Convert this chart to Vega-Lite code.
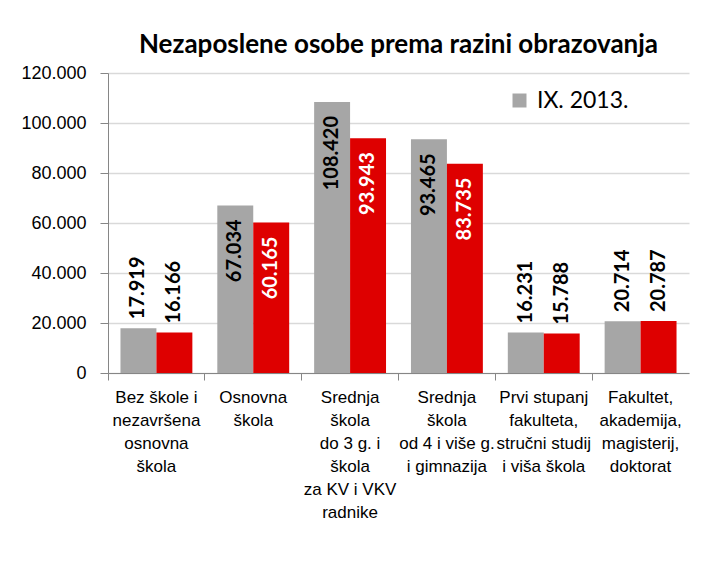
{
  "$schema": "https://vega.github.io/schema/vega-lite/v6.json",
  "width": 581,
  "height": 300,
  "autosize": {"type": "none"},
  "padding": {"left": 108, "top": 73, "right": 14, "bottom": 197},
  "background": "white",
  "config": {
    "locale": {"number": {"decimal": ",", "thousands": ".", "grouping": [3], "currency": ["", ""]}},
    "view": {"stroke": null}
  },
  "title": {
    "text": "Nezaposlene osobe prema razini obrazovanja",
    "anchor": "middle",
    "font": "Lato",
    "fontSize": 26,
    "fontWeight": "bold",
    "color": "black",
    "offset": 6
  },
  "data": {
    "values": [
      {"category": "Bez škole i\nnezavršena\nosnovna\nškola", "series": "IX. 2013.", "value": 17919},
      {"category": "Bez škole i\nnezavršena\nosnovna\nškola", "series": "IX. 2014.", "value": 16166},
      {"category": "Osnovna\nškola", "series": "IX. 2013.", "value": 67034},
      {"category": "Osnovna\nškola", "series": "IX. 2014.", "value": 60165},
      {"category": "Srednja\nškola\ndo 3 g. i\nškola\nza KV i VKV\nradnike", "series": "IX. 2013.", "value": 108420},
      {"category": "Srednja\nškola\ndo 3 g. i\nškola\nza KV i VKV\nradnike", "series": "IX. 2014.", "value": 93943},
      {"category": "Srednja\nškola\nod 4 i više g.\ni gimnazija", "series": "IX. 2013.", "value": 93465},
      {"category": "Srednja\nškola\nod 4 i više g.\ni gimnazija", "series": "IX. 2014.", "value": 83735},
      {"category": "Prvi stupanj\nfakulteta,\nstručni studij\ni viša škola", "series": "IX. 2013.", "value": 16231},
      {"category": "Prvi stupanj\nfakulteta,\nstručni studij\ni viša škola", "series": "IX. 2014.", "value": 15788},
      {"category": "Fakultet,\nakademija,\nmagisterij,\ndoktorat", "series": "IX. 2013.", "value": 20714},
      {"category": "Fakultet,\nakademija,\nmagisterij,\ndoktorat", "series": "IX. 2014.", "value": 20787}
    ]
  },
  "encoding": {
    "x": {
      "field": "category",
      "type": "nominal",
      "sort": null,
      "scale": {"paddingInner": 0, "paddingOuter": 0},
      "axis": {
        "title": null,
        "labelAngle": 0,
        "labelExpr": "split(datum.value, '\\n')",
        "labelFont": "Arial",
        "labelFontSize": 17,
        "labelColor": "black",
        "labelLineHeight": 23,
        "labelBaseline": "top",
        "labelPadding": 9,
        "labelLimit": 200,
        "bandPosition": 0,
        "tickSize": 7,
        "tickColor": "#868686",
        "domainColor": "#868686",
        "grid": false
      }
    },
    "xOffset": {"field": "series", "type": "nominal", "sort": ["IX. 2013.", "IX. 2014."], "scale": {"paddingInner": 0, "paddingOuter": 0.347}},
    "y": {
      "field": "value",
      "type": "quantitative",
      "scale": {"domain": [0, 120000], "nice": false},
      "axis": {
        "title": null,
        "values": [0, 20000, 40000, 60000, 80000, 100000, 120000],
        "format": ",d",
        "labelFont": "Arial",
        "labelFontSize": 18,
        "labelColor": "black",
        "labelPadding": 14,
        "tickSize": 8,
        "tickColor": "#868686",
        "domainColor": "#868686",
        "gridColor": "#d9d9d9",
        "gridWidth": 1.3
      }
    }
  },
  "layer": [
    {
      "mark": {"type": "bar"},
      "encoding": {
        "color": {
          "field": "series",
          "type": "nominal",
          "scale": {"domain": ["IX. 2013.", "IX. 2014."], "range": ["#a6a6a6", "#de0000"]},
          "legend": {
            "values": ["IX. 2013."],
            "title": null,
            "orient": "none",
            "legendX": 398,
            "legendY": 14,
            "symbolType": "square",
            "symbolSize": 196,
            "symbolStrokeWidth": 0,
            "labelFont": "Lato",
            "labelFontSize": 23,
            "labelColor": "black",
            "labelOffset": 6,
            "fillColor": "white",
            "padding": 2
          }
        }
      }
    },
    {
      "transform": [{"filter": "datum.value >= 40000"}],
      "mark": {"type": "text", "angle": 270, "align": "right", "baseline": "middle", "dx": -14, "font": "Lato", "fontWeight": "bold", "fontSize": 20},
      "encoding": {
        "text": {"field": "value", "type": "quantitative", "format": ",d"},
        "color": {"condition": {"test": "datum.series == 'IX. 2014.'", "value": "white"}, "value": "black"}
      }
    },
    {
      "transform": [{"filter": "datum.value < 40000"}],
      "mark": {"type": "text", "angle": 270, "align": "left", "baseline": "middle", "dx": 9, "font": "Lato", "fontWeight": "bold", "fontSize": 20, "color": "black"},
      "encoding": {
        "text": {"field": "value", "type": "quantitative", "format": ",d"}
      }
    }
  ]
}
